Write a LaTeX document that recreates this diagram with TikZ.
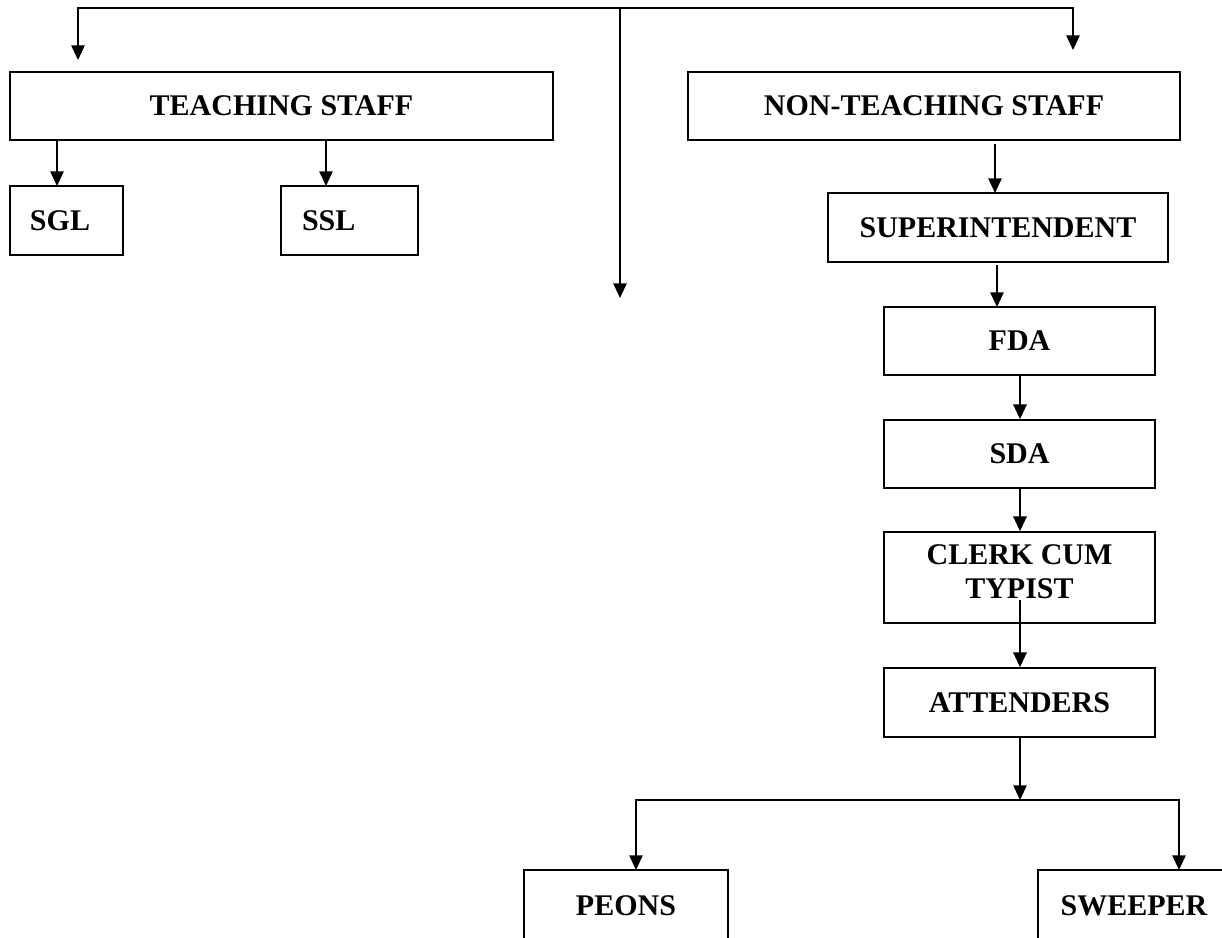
\documentclass[tikz,border=0pt]{standalone}
\usepackage{fontspec}
\setmainfont{Liberation Serif}
\usetikzlibrary{arrows.meta,calc}
\begin{document}
\begin{tikzpicture}[x=0.75pt,y=-0.75pt,
  box/.style={draw, line width=1.3pt, inner sep=0pt, font=\bfseries\fontsize{22.5}{26}\selectfont, align=center},
  conn/.style={line width=1.3pt, -{Triangle[width=10pt,length=11pt]}},
  plain/.style={line width=1.3pt}]
\useasboundingbox (0,0) rectangle (1222,938);
\clip (0,0) rectangle (1222,938);
% boxes
\node[box, minimum width=543*0.75pt, minimum height=68*0.75pt] (ts) at (281.5,106) {TEACHING STAFF};
\node[box, minimum width=113*0.75pt, minimum height=69*0.75pt, text width=73*0.75pt, align=left, inner xsep=15pt] (sgl) at (66.5,220.5) {SGL};
\node[box, minimum width=137*0.75pt, minimum height=69*0.75pt, text width=95*0.75pt, align=left, inner xsep=15.75pt] (ssl) at (349.5,220.5) {SSL};
\node[box, minimum width=492*0.75pt, minimum height=68*0.75pt] (nts) at (934,106) {NON-TEACHING STAFF};
\node[box, minimum width=340*0.75pt, minimum height=69*0.75pt] (sup) at (998,227.5) {SUPERINTENDENT};
\node[box, minimum width=271*0.75pt, minimum height=68*0.75pt] (fda) at (1019.5,341) {FDA};
\node[box, minimum width=271*0.75pt, minimum height=68*0.75pt] (sda) at (1019.5,454) {SDA};
\node[box, minimum width=271*0.75pt, minimum height=91*0.75pt, text depth=9pt] (cct) at (1019.5,577.5) {CLERK CUM\\TYPIST};
\node[box, minimum width=271*0.75pt, minimum height=69*0.75pt] (att) at (1019.5,702.5) {ATTENDERS};
\node[box, minimum width=204*0.75pt, minimum height=72*0.75pt] (peons) at (626,906) {PEONS};
\node[box, minimum width=192*0.75pt, minimum height=72*0.75pt] (swp) at (1134,906) {SWEEPER};
% coordinates
\coordinate (top) at (620,8);
\coordinate (tl) at (78,60);
\coordinate (tr) at (1073,50);
\coordinate (tm) at (620,298);
\coordinate (a1) at (57,186);
\coordinate (a2) at (326,186);
\coordinate (a3) at (995,193);
\coordinate (a4) at (997,307);
\coordinate (cx) at (1020,0);
\coordinate (c1) at (1020,600);
\coordinate (j) at (1020,800);
\coordinate (p1) at (636,870);
\coordinate (s1) at (1179,870);
% connectors
\draw[conn] (top) -| (tl);
\draw[conn] (top) -| (tr);
\draw[conn] (top) -- (tm);
\draw[conn] (ts.south -| a1) -- (a1);
\draw[conn] (ts.south -| a2) -- (a2);
\draw[conn] ($(nts.south -| a3)+(0,3)$) -- (a3);
\draw[conn] ($(sup.south -| a4)+(0,2)$) -- (a4);
\draw[conn] (fda.south -| cx) -- (sda.north -| cx);
\draw[conn] (sda.south -| cx) -- (cct.north -| cx);
\draw[conn] (c1) -- (att.north -| cx);
\draw[conn] (att.south -| cx) -- (j);
\draw[conn] (j) -| (p1);
\draw[conn] (j) -| (s1);
\end{tikzpicture}
\end{document}
